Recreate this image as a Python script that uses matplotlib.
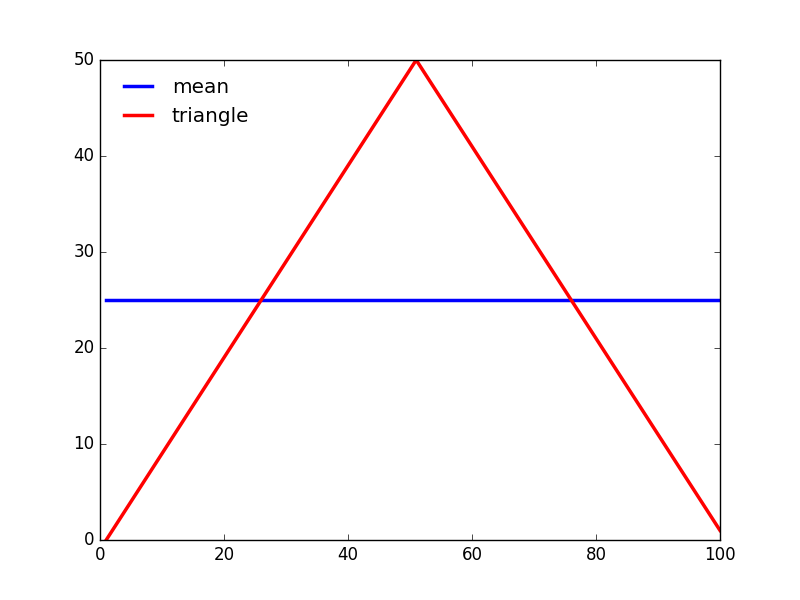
import matplotlib
matplotlib.use('Agg')
import matplotlib.pyplot as plt

# triangle vertices
tri_x = [1, 51, 100]
tri_y = [0, 50, 1]
# mean line
mean_x = [1, 100]
mean_y = [25, 25]

plt.style.use('classic')
fig, ax = plt.subplots(figsize=(8, 6), dpi=100)

ax.plot(mean_x, mean_y, color='b', linewidth=2.5, label='mean')
ax.plot(tri_x, tri_y, color='r', linewidth=2.5, label='triangle')

ax.set_xlim(0, 100)
ax.set_ylim(0, 50)
ax.legend(loc='upper left', frameon=False, handletextpad=0.7)

plt.savefig('out.png', dpi=100)
